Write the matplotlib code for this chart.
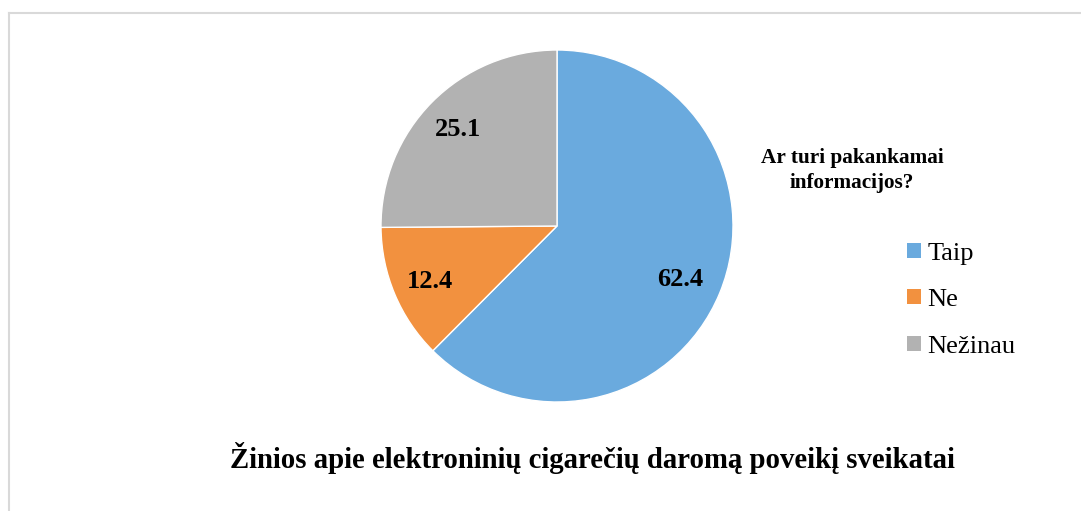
import numpy as np
import matplotlib.pyplot as plt
from matplotlib.patches import Patch
from matplotlib.lines import Line2D

# data
labels = ['Taip', 'Ne', 'Nežinau']
values = [62.4, 12.4, 25.1]
colors = ['#6aaade', '#f2913f', '#b2b2b2']

legend_title = 'Ar turi pakankamai\ninformacijos?'
title = 'Žinios apie elektroninių cigarečių daromą poveikį sveikatai'

plt.rcParams['font.family'] = ['Liberation Serif', 'DejaVu Serif']

fig = plt.figure(figsize=(10.81, 5.11), dpi=100)
ax = fig.add_axes([381/1081, 109/511, 352/1081, 352/511])

wedges, _ = ax.pie(values, colors=colors, startangle=90, counterclock=False,
                   wedgeprops=dict(edgecolor='white', linewidth=1))
ax.set_xlim(-1, 1)
ax.set_ylim(-1, 1)
ax.set_aspect('equal')

# value labels inside each wedge
label_r = [0.76, 0.78, 0.795]
for w, v, r in zip(wedges, values, label_r):
    ang = np.deg2rad((w.theta1 + w.theta2) / 2)
    ax.text(r*np.cos(ang), r*np.sin(ang), f'{v:.1f}', ha='center',
            va='center_baseline', fontsize=19, fontweight='bold')

# legend
handles = [Patch(facecolor=c, edgecolor='none') for c in colors]
fig.legend(handles, labels, loc='upper left', bbox_to_anchor=(907/1081, 1-243/511),
           frameon=False, fontsize=19, handlelength=0.53, handleheight=0.5,
           handletextpad=0.25, labelspacing=0.92, borderpad=0, borderaxespad=0)
fig.text(852/1081, 1-170.5/511, legend_title, ha='center', va='center',
         fontsize=15.3, fontweight='bold', linespacing=1.38)

fig.text(592/1081, 1-458/511, title, ha='center', va='center',
         fontsize=20.7, fontweight='bold')

# frame lines (top and left)
fig.add_artist(Line2D([8.5/1081, 1], [1-13.5/511]*2, color='#d9d9d9', lw=1.5,
                      transform=fig.transFigure))
fig.add_artist(Line2D([8.5/1081]*2, [0, 1-13.5/511], color='#d9d9d9', lw=1.5,
                      transform=fig.transFigure))

fig.savefig('out.png', dpi=100)
